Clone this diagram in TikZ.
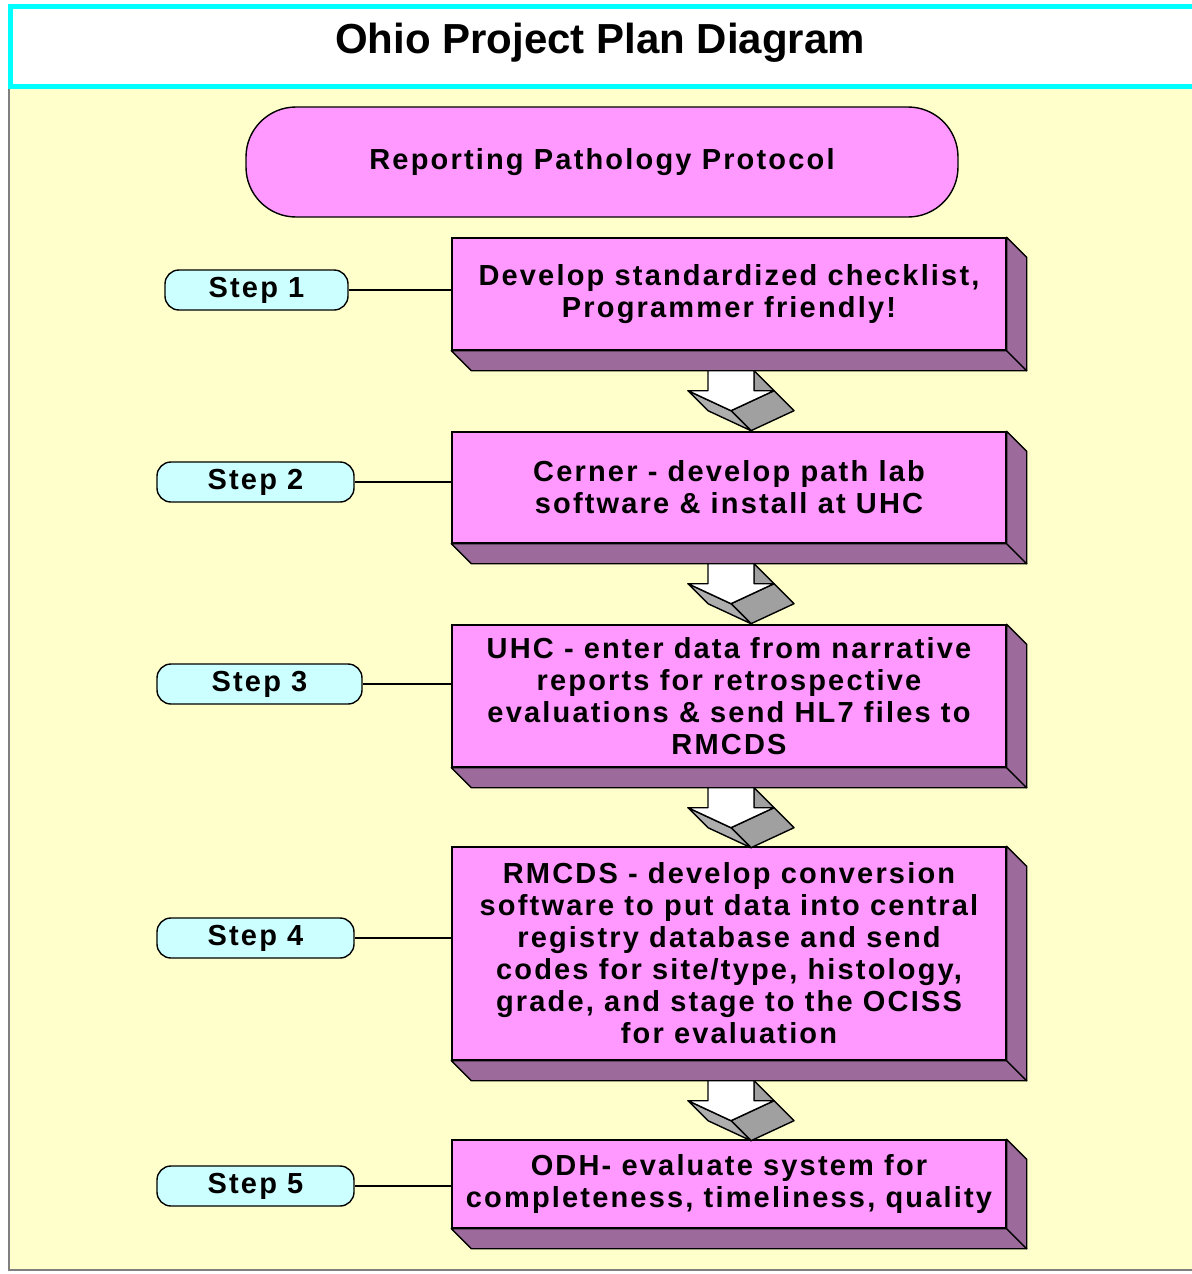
\documentclass[tikz,border=0pt]{standalone}
\usepackage{fontspec}
\usepackage{xcolor}
\newfontfamily\diagfont[LetterSpace=7.5]{Liberation Sans}
\newfontfamily\titlefont{Liberation Sans}
\definecolor{pinkface}{HTML}{FF99FF}
\definecolor{pinkside}{HTML}{9C6B9C}
\definecolor{pillcyan}{HTML}{CCFFFF}
\definecolor{paleyellow}{HTML}{FFFFCC}
\definecolor{titlecyan}{HTML}{00FFFF}
\definecolor{arrowgray}{HTML}{A0A0A0}

% 3D block arrow, origin at top centre of the stem
\newcommand{\flowarrow}[1]{%
  \begin{scope}[shift={(#1)}]
    \filldraw[arrowshade] (23,0) -- (23,20) -- (43,40) -- (43,20) -- cycle;
    \filldraw[arrowshade] (43,20) -- (0,40) -- (20,60) -- (63,40) -- cycle;
    \filldraw[arrowshade,fill=arrowgray!85] (0,40) -- (-43,20) -- (-23,40) -- (20,60) -- cycle;
    \filldraw[arrowface] (-23,0) -- (23,0) -- (23,20) -- (43,20) -- (0,40) -- (-43,20) -- (-23,20) -- cycle;
  \end{scope}}

\begin{document}
\begin{tikzpicture}[x=0.5pt,y=-0.5pt,line width=0.7pt]
\tikzset{every node/.style={font=\diagfont\bfseries\fontsize{14.5}{16}\selectfont}}
\tikzset{stepbox/.style={draw,fill=pinkface,minimum width=277pt,align=center,inner sep=0pt}}
\tikzset{steptag/.style={draw,fill=pillcyan,rounded corners=7pt,minimum height=20pt,inner sep=0pt}}
\tikzset{boxside/.style={draw,fill=pinkside,line join=round}}
\tikzset{arrowface/.style={draw,fill=white,line join=round},arrowshade/.style={draw,fill=arrowgray,line join=round}}

\useasboundingbox (0,0) rectangle (1192,1274);
\fill[white] (0,0) rectangle (1192,1274);
\filldraw[fill=paleyellow,draw=gray] (9,87) rectangle (1200,1270);
\filldraw[fill=white,draw=titlecyan,line width=2.5pt] (10,6) rectangle (1200,86);
\node[font=\titlefont\bfseries\fontsize{21}{24}\selectfont] (title) at (600,43) {Ohio Project Plan Diagram};

\node[draw,fill=pinkface,rounded corners=25pt,minimum width=356pt,minimum height=55pt] (protocol) at (602,162) {Reporting Pathology Protocol};

\node[stepbox,minimum height=56pt] (b1) at (729,294) {Develop standardized checklist,\\Programmer friendly!};
\node[stepbox,minimum height=55.5pt] (b2) at (729,487.5) {Cerner - develop path lab\\software \& install at UHC};
\node[stepbox,minimum height=71pt] (b3) at (729,696) {UHC - enter data from narrative\\reports for retrospective\\evaluations \& send HL7 files to\\RMCDS};
\node[stepbox,minimum height=106.5pt] (b4) at (729,953.5) {RMCDS - develop conversion\\software to put data into central\\registry database and send\\codes for site/type, histology,\\grade, and stage to the OCISS\\for evaluation};
\node[stepbox,minimum height=44pt] (b5) at (729,1184) {ODH- evaluate system for\\completeness, timeliness, quality};

\foreach \i in {1,...,5}{
  \filldraw[boxside] (b\i.south west) -- (b\i.south east) -- ([shift={(20,20)}]b\i.south east) -- ([shift={(20,20)}]b\i.south west) -- cycle;
  \filldraw[boxside] (b\i.north east) -- ([shift={(20,20)}]b\i.north east) -- ([shift={(20,20)}]b\i.south east) -- (b\i.south east) -- cycle;
}

\foreach \i in {1,...,4}{
  \coordinate (a\i) at ([shift={(2,20)}]b\i.south);
  \flowarrow{a\i}
}

\node[steptag,minimum width=91.5pt] (s1) at (256.5,290) {Step 1};
\node[steptag,minimum width=98.5pt] (s2) at (255.5,482) {Step 2};
\node[steptag,minimum width=102.5pt] (s3) at (259.5,684) {Step 3};
\node[steptag,minimum width=98.5pt] (s4) at (255.5,938) {Step 4};
\node[steptag,minimum width=98.5pt] (s5) at (255.5,1186) {Step 5};

\foreach \i in {1,...,5}
  \draw (s\i.east) -- (s\i.east -| b\i.west);

\end{tikzpicture}
\end{document}
